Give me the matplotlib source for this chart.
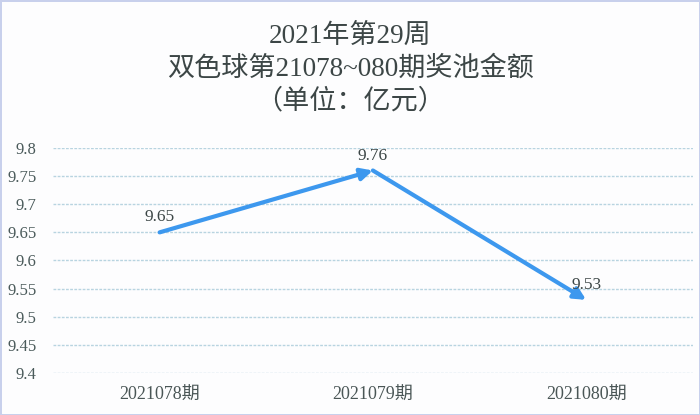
import matplotlib.pyplot as plt

plt.rcParams['font.family'] = ['Liberation Serif', 'Noto Sans CJK SC', 'DejaVu Sans']

# Data
# -----------------------------
periods = ['2021078期', '2021079期', '2021080期']
pool = [9.65, 9.76, 9.53]
yticks = [9.4, 9.45, 9.5, 9.55, 9.6, 9.65, 9.7, 9.75, 9.8]
title_lines = ['2021年第29周', '双色球第21078~080期奖池金额', '（单位：亿元）']

text_color = '#3c4646'
line_color = '#3d98ee'

fig = plt.figure(figsize=(7, 4.15), dpi=100)
fig.patch.set_facecolor('#fdfdfe')
fig.patch.set_edgecolor('#c8d0ec')
fig.patch.set_linewidth(2)
ax = fig.add_axes([0.0757, 0.1012, 0.914, 0.5422])
ax.set_facecolor('#fdfdfe')

# Line drawn as arrows between consecutive points
x = list(range(len(pool)))
for i in range(len(pool) - 1):
    ax.annotate('', xy=(x[i + 1], pool[i + 1]), xytext=(x[i], pool[i]),
                arrowprops=dict(arrowstyle='-|>,head_length=0.7,head_width=0.35',
                                color=line_color, lw=3, shrinkA=0, shrinkB=0))

for xi, v in zip(x, pool):
    ax.annotate(f'{v:.2f}', (xi, v), textcoords='offset points', xytext=(0, 5),
                ha='center', va='bottom', fontsize=12.5, color=text_color)

ax.set_xlim(-0.5, 2.5)
ax.set_ylim(9.4, 9.8)
ax.set_xticks(x)
ax.set_xticklabels(periods, fontsize=13, color='#4a5656')
ax.set_yticks(yticks)
ax.set_yticklabels([f'{t:g}' for t in yticks], fontsize=12, color='#4a5a5a')
ax.tick_params(length=0, pad=10)
ax.tick_params(axis='y', pad=12)
ax.yaxis.grid(True, color='#b8d4e0', linestyle=(0, (2, 1)), lw=1)
ax.set_axisbelow(True)
for s in ax.spines.values():
    s.set_visible(False)

for k, line in enumerate(title_lines):
    fig.text(0.5, 1 - (36 + 33 * k) / 415, line, ha='center', va='center',
             fontsize=19.5, color=text_color)

fig.savefig('out.png', dpi=100, facecolor=fig.get_facecolor(), edgecolor=fig.get_edgecolor())
